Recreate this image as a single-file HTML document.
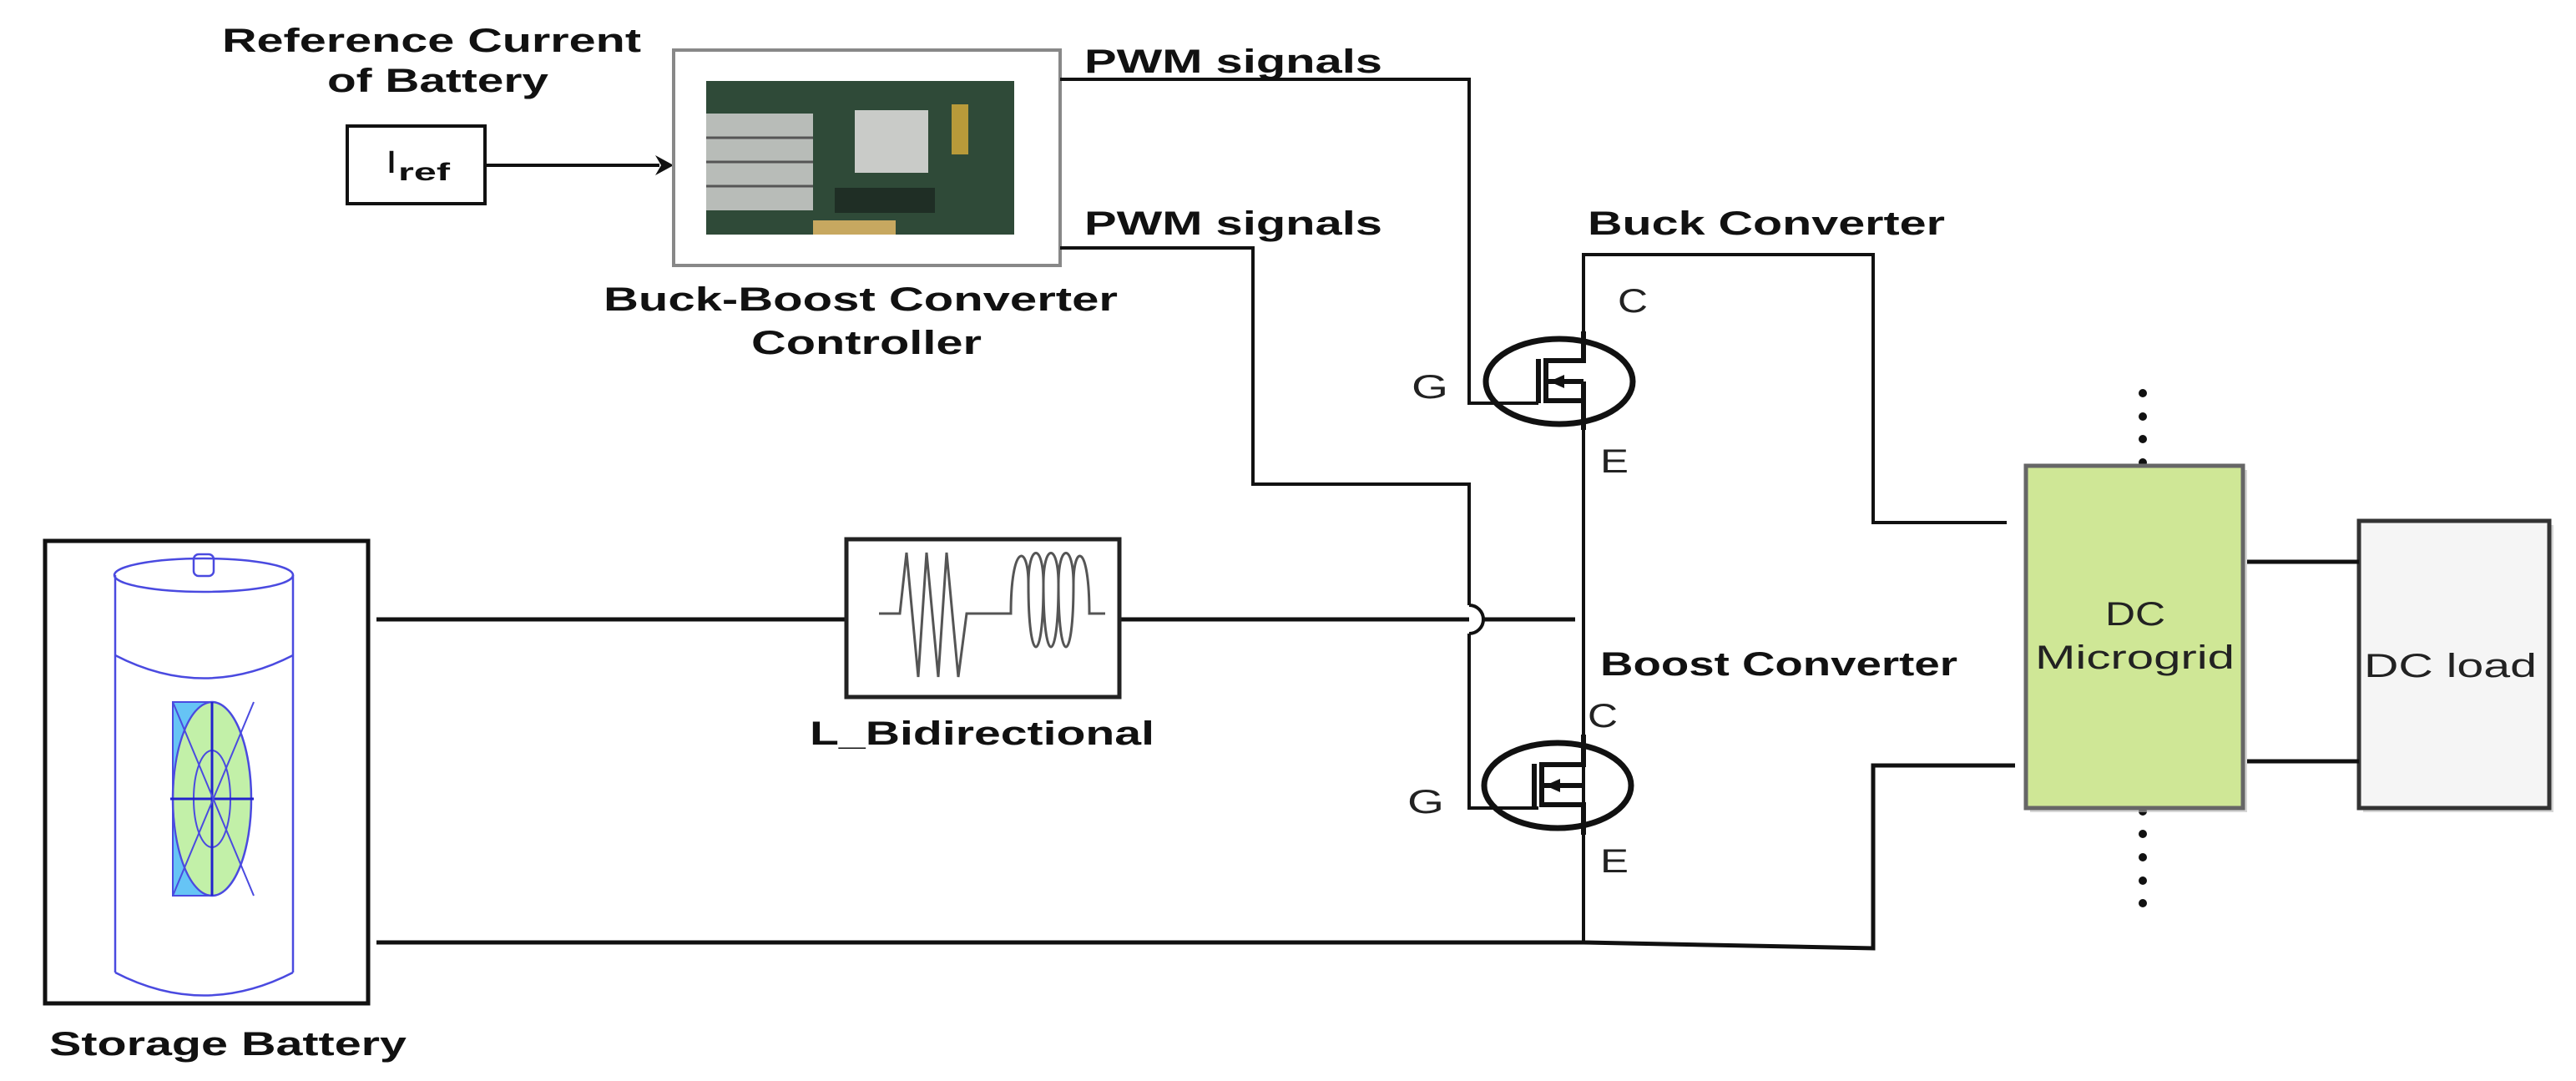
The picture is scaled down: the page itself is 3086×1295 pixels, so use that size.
<!DOCTYPE html>
<html><head><meta charset="utf-8"><style>html,body{margin:0;padding:0;background:#fff}svg{display:block}</style></head>
<body>
<svg xmlns="http://www.w3.org/2000/svg" width="3086" height="1295" viewBox="0 0 3086 1295" font-family="Liberation Sans, Arial, sans-serif">
<rect width="3086" height="1295" fill="#fff"/>
<g font-weight="bold" fill="#111" font-size="40">
<text x="266" y="62" textLength="502" lengthAdjust="spacingAndGlyphs">Reference Current</text>
<text x="392" y="110" textLength="265" lengthAdjust="spacingAndGlyphs">of Battery</text>
<text x="1299" y="87" textLength="357" lengthAdjust="spacingAndGlyphs">PWM signals</text>
<text x="1299" y="281" textLength="357" lengthAdjust="spacingAndGlyphs">PWM signals</text>
<text x="723" y="372" textLength="616" lengthAdjust="spacingAndGlyphs">Buck-Boost Converter</text>
<text x="900" y="424" textLength="276" lengthAdjust="spacingAndGlyphs">Controller</text>
<text x="1902" y="281" textLength="428" lengthAdjust="spacingAndGlyphs">Buck Converter</text>
<text x="1917" y="809" textLength="428" lengthAdjust="spacingAndGlyphs">Boost Converter</text>
<text x="970" y="892" textLength="413" lengthAdjust="spacingAndGlyphs">L_Bidirectional</text>
<text x="59" y="1264" textLength="428" lengthAdjust="spacingAndGlyphs">Storage Battery</text>
</g>
<g fill="#222" font-size="40">
<text x="1938" y="374" textLength="36" lengthAdjust="spacingAndGlyphs">C</text>
<text x="1917" y="566" textLength="34" lengthAdjust="spacingAndGlyphs">E</text>
<text x="1691" y="477" textLength="44" lengthAdjust="spacingAndGlyphs">G</text>
<text x="1902" y="871" textLength="36" lengthAdjust="spacingAndGlyphs">C</text>
<text x="1917" y="1045" textLength="34" lengthAdjust="spacingAndGlyphs">E</text>
<text x="1686" y="974" textLength="44" lengthAdjust="spacingAndGlyphs">G</text>
</g>
<!-- Iref -->
<rect x="416" y="151" width="165" height="93" fill="#fff" stroke="#111" stroke-width="4"/>
<text x="462" y="207" font-size="38" fill="#111" textLength="14" lengthAdjust="spacingAndGlyphs">I</text>
<text x="477" y="216" font-size="30" font-weight="bold" fill="#111" textLength="62" lengthAdjust="spacingAndGlyphs">ref</text>
<line x1="581" y1="198" x2="790" y2="198" stroke="#111" stroke-width="4"/>
<polygon points="807,198 785,186 792,198 785,210" fill="#111"/>
<!-- controller -->
<rect x="807" y="60" width="463" height="258" fill="#fff" stroke="#888" stroke-width="4"/>
<rect x="846" y="97" width="369" height="184" fill="#2f4a38"/>
<rect x="846" y="136" width="128" height="116" fill="#b8bcb8"/>
<line x1="846" y1="165" x2="974" y2="165" stroke="#555" stroke-width="3"/>
<line x1="846" y1="194" x2="974" y2="194" stroke="#555" stroke-width="3"/>
<line x1="846" y1="223" x2="974" y2="223" stroke="#555" stroke-width="3"/>
<rect x="1024" y="132" width="88" height="75" fill="#c9cbc8"/>
<rect x="1000" y="225" width="120" height="30" fill="#1f2e25"/>
<rect x="1140" y="125" width="20" height="60" fill="#b89a3a"/>
<rect x="974" y="264" width="99" height="17" fill="#c7a860"/>
<!-- PWM wires -->
<polyline points="1270,95 1760,95 1760,483 1843,483" fill="none" stroke="#111" stroke-width="4"/>
<polyline points="1270,297 1501,297 1501,580 1760,580 1760,725" fill="none" stroke="#111" stroke-width="4"/>
<path d="M1760,725 A17,17 0 0 1 1760,759" fill="none" stroke="#111" stroke-width="4"/>
<polyline points="1760,759 1760,968 1843,968" fill="none" stroke="#111" stroke-width="4"/>
<!-- buck -->
<polyline points="1897,397 1897,305 2244,305 2244,626 2404,626" fill="none" stroke="#111" stroke-width="4"/>
<line x1="1897" y1="515" x2="1897" y2="1129" stroke="#111" stroke-width="4"/>
<g fill="none" stroke="#111" stroke-width="7">
<ellipse cx="1868" cy="457" rx="88" ry="51"/>
<ellipse cx="1866" cy="941" rx="88" ry="51"/>
</g>
<g fill="none" stroke="#111" stroke-width="6">
<line x1="1843" y1="430" x2="1843" y2="483"/>
<polyline points="1897,397 1897,432 1852,432 1852,480 1897,480 1897,515"/>
<line x1="1852" y1="457" x2="1897" y2="457"/>
<line x1="1897" y1="457" x2="1897" y2="480"/>
<line x1="1838" y1="915" x2="1838" y2="968"/>
<polyline points="1897,880 1897,916 1847,916 1847,964 1897,964 1897,1000"/>
<line x1="1847" y1="941" x2="1897" y2="941"/>
</g>
<polygon points="1856,457 1874,449 1874,465" fill="#111"/>
<polygon points="1851,941 1869,933 1869,949" fill="#111"/>
<!-- battery lines -->
<line x1="451" y1="742" x2="1014" y2="742" stroke="#111" stroke-width="5"/>
<line x1="1341" y1="742" x2="1760" y2="742" stroke="#111" stroke-width="5"/>
<line x1="1776" y1="742" x2="1887" y2="742" stroke="#111" stroke-width="5"/>
<polyline points="451,1129 1897,1129 2244,1136 2244,917 2414,917" fill="none" stroke="#111" stroke-width="5"/>
<!-- inductor -->
<rect x="1014" y="646" width="327" height="189" fill="#fff" stroke="#222" stroke-width="5"/>
<polyline points="1053,735 1078,735 1086,662 1100,811 1110,662 1124,811 1134,662 1148,811 1158,735 1205,735" fill="none" stroke="#555" stroke-width="3"/>
<path d="M1205,735 L1211,735 C1211,650 1232,650 1232,700 C1232,800 1250,800 1250,700 C1250,650 1268,650 1268,700 C1268,800 1286,800 1286,700 C1286,650 1305,650 1305,735 L1324,735 M1232,700 C1232,650 1250,650 1250,700 M1250,700 C1250,800 1268,800 1268,700 M1268,700 C1268,650 1286,650 1286,700" fill="none" stroke="#555" stroke-width="3"/>
<!-- battery -->
<rect x="54" y="648" width="387" height="554" fill="#fff" stroke="#111" stroke-width="5"/>
<g fill="none" stroke="#4a4ae0" stroke-width="2.5">
<ellipse cx="244" cy="689" rx="107" ry="20"/>
<rect x="232" y="664" width="24" height="26" rx="6"/>
<line x1="138" y1="689" x2="138" y2="1165"/>
<line x1="351" y1="689" x2="351" y2="1165"/>
<path d="M138,785 Q244,840 351,785"/>
<path d="M138,1165 Q244,1220 351,1165"/>
</g>
<path d="M207,840 L254,840 L254,1074 L207,1074 Z" fill="#6cc8f5"/>
<ellipse cx="254" cy="957" rx="47" ry="116" fill="#c2f0a8" stroke="#4a4ae0" stroke-width="2.5"/>
<path d="M254,841 A47,116 0 0 0 254,1073 L207,1073 L207,841 Z" fill="#66c4f5" stroke="#4a4ae0" stroke-width="2"/>
<ellipse cx="254" cy="957" rx="22" ry="58" fill="none" stroke="#4a4ae0" stroke-width="2"/>
<line x1="204" y1="957" x2="304" y2="957" stroke="#2222cc" stroke-width="3"/>
<line x1="254" y1="841" x2="254" y2="1073" stroke="#2222cc" stroke-width="3"/>
<path d="M207,841 L304,1073 M304,841 L207,1073" stroke="#4a4ae0" stroke-width="2" fill="none"/>
<!-- microgrid -->
<g fill="#111">
<circle cx="2567" cy="471" r="5"/><circle cx="2567" cy="499" r="5"/><circle cx="2567" cy="526" r="5"/><circle cx="2567" cy="554" r="5"/>
<circle cx="2567" cy="972" r="5"/><circle cx="2567" cy="999" r="5"/><circle cx="2567" cy="1027" r="5"/><circle cx="2567" cy="1055" r="5"/><circle cx="2567" cy="1082" r="5"/>
</g>
<rect x="2432" y="563" width="260" height="410" fill="#bbb" opacity="0.6"/>
<rect x="2427" y="558" width="260" height="410" fill="#cfe796" stroke="#666" stroke-width="5"/>
<rect x="2831" y="629" width="228" height="344" fill="#bbb" opacity="0.6"/>
<rect x="2826" y="624" width="228" height="344" fill="#f5f5f5" stroke="#333" stroke-width="5"/>
<line x1="2692" y1="673" x2="2826" y2="673" stroke="#111" stroke-width="5"/>
<line x1="2692" y1="912" x2="2826" y2="912" stroke="#111" stroke-width="5"/>
<g fill="#222" font-size="40">
<text x="2522" y="749" textLength="72" lengthAdjust="spacingAndGlyphs">DC</text>
<text x="2438" y="801" textLength="239" lengthAdjust="spacingAndGlyphs">Microgrid</text>
<text x="2832" y="811" textLength="207" lengthAdjust="spacingAndGlyphs">DC load</text>
</g>
</svg>
</body></html>
